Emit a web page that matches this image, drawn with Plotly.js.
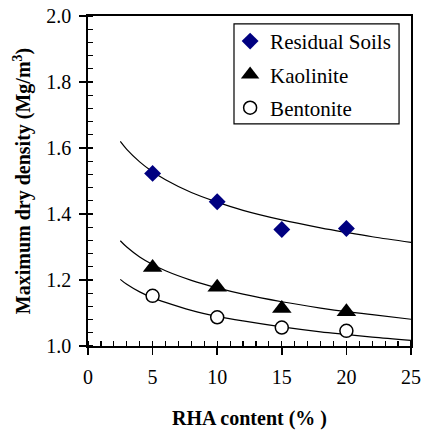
<!DOCTYPE html>
<html>
<head>
<meta charset="utf-8">
<script src="https://cdn.plot.ly/plotly-3.0.1.min.js"></script>
<style>
html,body{margin:0;padding:0;background:#fff;}
#chart{width:423px;height:430px;}
</style>
</head>
<body>
<div id="chart"></div>
<script>
// Measured points
const rhaContent = [5, 10, 15, 20];
const residualSoils = [1.523, 1.437, 1.353, 1.356];
const kaolinite = [1.238, 1.178, 1.114, 1.104];
const bentonite = [1.152, 1.087, 1.056, 1.046];

// Fitted curves
const curveX = [2.5, 3, 4, 5, 6, 8, 10, 12, 15, 18, 20, 22, 25];
const residualCurve = [1.620, 1.596, 1.558, 1.528, 1.504, 1.465, 1.436, 1.411, 1.382, 1.358, 1.344, 1.331, 1.314];
const kaoliniteCurve = [1.319, 1.300, 1.270, 1.247, 1.228, 1.199, 1.176, 1.157, 1.134, 1.115, 1.104, 1.095, 1.081];
const bentoniteCurve = [1.202, 1.187, 1.164, 1.146, 1.132, 1.108, 1.090, 1.076, 1.058, 1.043, 1.035, 1.027, 1.017];

const seriesNames = ['Residual Soils', 'Kaolinite', 'Bentonite'];

const serif = 'Liberation Serif, Times New Roman, serif';
const lineStyle = {color: '#000', width: 1.2, shape: 'spline'};

const traces = [
  {x: curveX, y: residualCurve, mode: 'lines', line: lineStyle, showlegend: false, hoverinfo: 'skip'},
  {x: curveX, y: kaoliniteCurve, mode: 'lines', line: lineStyle, showlegend: false, hoverinfo: 'skip'},
  {x: curveX, y: bentoniteCurve, mode: 'lines', line: lineStyle, showlegend: false, hoverinfo: 'skip'},
  {x: rhaContent, y: residualSoils, mode: 'markers', name: seriesNames[0], legendgroup: 'a',
   marker: {symbol: 'diamond', size: 13, color: '#000080', line: {width: 0}}},
  {x: rhaContent, y: kaolinite, mode: 'markers', name: seriesNames[1], legendgroup: 'b',
   marker: {symbol: 'triangle-up', size: 17, color: '#000', line: {width: 0}}},
  {x: rhaContent, y: bentonite, mode: 'markers', name: seriesNames[2], legendgroup: 'c',
   marker: {symbol: 'circle', size: 13, color: '#fff', line: {width: 1.5, color: '#000'}}}
];

const layout = {
  width: 423, height: 430,
  margin: {l: 88, r: 12, t: 16, b: 84},
  paper_bgcolor: '#fff', plot_bgcolor: '#fff',
  font: {family: serif, size: 20, color: '#000'},
  showlegend: true,
  legend: {
    x: 0.44, y: 0.985, xanchor: 'left', yanchor: 'top',
    bgcolor: 'rgba(0,0,0,0)', borderwidth: 0,
    font: {family: serif, size: 21, color: '#000'},
    tracegroupgap: 3, traceorder: 'grouped'
  },
  shapes: [{
    type: 'rect', xref: 'paper', yref: 'paper',
    x0: 0.452, x1: 0.963, y0: 0.673, y1: 0.976,
    fillcolor: '#fff', line: {color: '#000', width: 1.2}, layer: 'above'
  }],
  xaxis: {
    range: [0, 25], dtick: 5, tick0: 0,
    showgrid: false, zeroline: false,
    showline: true, linecolor: '#000', linewidth: 1.8, mirror: true,
    ticks: 'outside', ticklen: 7, tickwidth: 1.5, tickcolor: '#000',
    ticklabelstandoff: 5,
    minor: {dtick: 1, ticks: 'inside', ticklen: 5, tickwidth: 1.2, tickcolor: '#000', showgrid: false},
    tickfont: {family: serif, size: 20},
    title: {text: '<b>RHA content (% )</b>', font: {family: serif, size: 20}, standoff: 31}
  },
  yaxis: {
    range: [1, 2], dtick: 0.2, tick0: 1, tickformat: '.1f',
    showgrid: false, zeroline: false,
    showline: true, linecolor: '#000', linewidth: 1.8, mirror: true,
    ticks: 'outside', ticklen: 7, tickwidth: 1.5, tickcolor: '#000',
    ticklabelstandoff: 4,
    minor: {dtick: 0.04, ticks: 'inside', ticklen: 5, tickwidth: 1.2, tickcolor: '#000', showgrid: false},
    tickfont: {family: serif, size: 20},
    title: {text: '<b>Maximum dry density (Mg/m<sup>3</sup>)</b>', font: {family: serif, size: 20}, standoff: 10}
  }
};

Plotly.newPlot('chart', traces, layout, {staticPlot: true, displayModeBar: false});
</script>
</body>
</html>
